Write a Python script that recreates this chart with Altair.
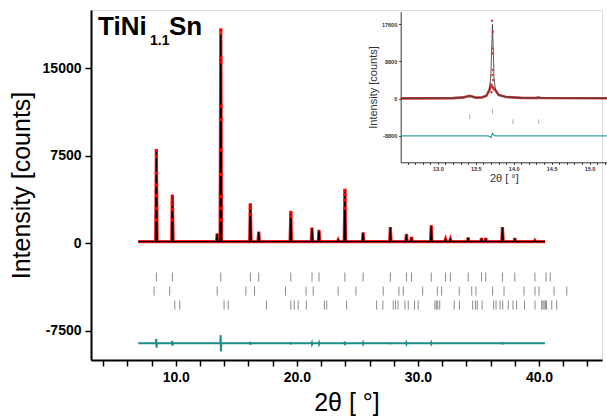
import altair as alt
import pandas as pd

# ---------------- values ----------------
# main pattern: reflections (2θ in °) with observed / calculated peak heights (counts)
peak_pos = [8.40, 9.72, 13.42, 13.72, 16.16, 16.85, 19.50, 21.25, 21.83, 23.41, 23.97,
            25.47, 27.72, 29.05, 29.47, 31.10, 32.28, 32.68, 34.15, 35.25, 35.60,
            36.98, 38.00, 39.66]
peak_obs = [8000, 4100, 850, 18300, 3350, 1000, 2700, 1350, 1150, 300, 4600,
            950, 1400, 800, 550, 1550, 350, 350, 500, 450, 450, 1400, 450, 250]
peak_calc = [7900, 4000, 800, 17900, 3250, 950, 2650, 1300, 1100, 280, 4500,
             900, 1350, 750, 520, 1500, 330, 330, 480, 430, 430, 1350, 430, 230]
background = 150
scan_start, scan_end = 6.9, 40.5

# individual observed points visible on the strong peaks
obs_pt_x = [13.72, 13.72, 13.72, 13.72, 13.72, 13.72, 13.72, 13.72, 13.72, 13.72,
            8.40, 8.40, 8.40, 8.40, 8.40, 8.40, 8.40,
            9.72, 9.72, 9.72, 9.72, 9.72,
            16.16, 16.16, 16.16,
            23.97, 23.97, 23.97, 23.97,
            19.50, 19.50]
obs_pt_y = [18300, 15900, 15550, 11750, 10600, 8000, 5900, 4000, 3000, 2000,
            7950, 7450, 6000, 5000, 4100, 3000, 2000,
            4050, 3700, 3350, 2900, 2000,
            3300, 3000, 2500,
            4550, 4200, 3700, 3000,
            2650, 2300]

# difference curve: spikes (2θ) and their amplitudes (counts)
diff_pos = [8.40, 9.72, 13.72, 16.16, 19.50, 21.25, 21.83, 23.97, 25.47, 27.72, 29.05, 31.10, 36.98]
diff_amp = [380, 200, 700, 120, 100, 70, 70, 150, 60, 80, 60, 60, 100]
diff_offset = -8570

# Bragg reflection markers (2θ) for the three phases
bragg_1 = [8.40, 9.72, 13.72, 16.16, 16.85, 19.50, 21.25, 21.83, 23.97, 25.47, 27.72,
           29.05, 29.47, 31.10, 32.28, 32.68, 34.15, 35.25, 35.60, 36.98, 38.00,
           39.66, 40.58, 40.93]
bragg_2 = [8.21, 9.50, 13.42, 15.79, 16.50, 19.06, 20.76, 21.35, 23.41, 24.88, 27.13,
           28.43, 28.79, 30.39, 31.60, 31.96, 33.41, 34.44, 34.79, 36.17, 37.11,
           38.76, 39.67, 40.00, 41.24, 42.29]
bragg_3 = [9.92, 10.33, 13.99, 14.33, 17.49, 19.50, 19.78, 20.11, 20.78, 22.28, 22.47,
           24.11, 26.59, 27.10, 27.96, 28.14, 28.35, 28.93, 29.20, 29.72, 30.02,
           31.40, 31.52, 31.64, 31.80, 33.00, 33.43, 34.52, 34.75, 34.90, 35.30,
           36.25, 36.45, 36.78, 37.00, 37.46, 37.85, 38.15, 38.80, 39.67, 40.22,
           40.32, 40.42, 40.52, 40.62, 41.05, 41.46]
bragg_rows_main = [-2890, -4090, -5290]

main_x_ticks = [4, 6, 8, 10, 12, 14, 16, 18, 20, 22, 24, 26, 28, 30, 32, 34, 36, 38, 40, 42, 44]
main_y_ticks = [-7500, 0, 7500, 15000]

# inset (zoom around the strongest reflection)
inset_calc_x = [12.51, 13.20, 13.34, 13.39, 13.42, 13.45, 13.50, 13.58, 13.64, 13.68, 13.70,
                13.71, 13.72, 13.73, 13.74, 13.76, 13.80, 13.90, 14.10, 14.28, 14.32, 14.36, 15.23]
inset_calc_y = [80, 130, 300, 550, 650, 520, 250, 280, 700, 2000, 6000,
                12000, 17600, 12000, 5000, 2000, 900, 400, 200, 180, 260, 180, 100]
inset_obs_x = [12.51, 13.20, 13.34, 13.39, 13.42, 13.45, 13.50, 13.58, 13.64, 13.68, 13.70,
               13.76, 13.80, 13.90, 14.10, 14.28, 14.32, 14.36, 15.23]
inset_obs_y = [80, 130, 300, 560, 660, 520, 250, 280, 700, 2100, 3200,
               2000, 900, 400, 200, 180, 260, 180, 100]
inset_pt_x = [13.715, 13.725, 13.720, 13.715, 13.725, 13.720, 13.730, 13.710, 13.735, 13.705]
inset_pt_y = [18450, 15850, 11900, 10700, 6800, 5600, 4400, 3200, 2200, 1500]
inset_diff_x = [12.51, 13.66, 13.69, 13.70, 13.72, 13.73, 13.76, 15.23]
inset_diff_y = [-8800, -8800, -9000, -9180, -8230, -8500, -8800, -8800]
inset_bragg_rows = [-3060, -4260, -5440]
inset_x_ticks = [12.6, 12.7, 12.8, 12.9, 13.0, 13.1, 13.2, 13.3, 13.4, 13.5, 13.6, 13.7,
                 13.8, 13.9, 14.0, 14.1, 14.2, 14.3, 14.4, 14.5, 14.6, 14.7, 14.8,
                 14.9, 15.0, 15.1, 15.2]
inset_y_ticks = [-8800, 0, 8800, 17600]

# ---------------- tables built from the lists ----------------
HW = 0.06  # half width of drawn peaks


def profile(pos, heights):
    rows = [(scan_start, background)]
    for p, h in sorted(zip(pos, heights)):
        rows += [(p - HW, background), (p, h), (p + HW, background)]
    rows.append((scan_end, background))
    return pd.DataFrame(rows, columns=["tt", "counts"])


obs_df = profile(peak_pos, peak_obs)
calc_df = profile(peak_pos, peak_calc)
pts_df = pd.DataFrame({"tt": obs_pt_x, "counts": obs_pt_y})

drows = [(scan_start, diff_offset)]
for p, a in zip(diff_pos, diff_amp):
    drows += [(p - 0.04, diff_offset), (p - 0.01, diff_offset + a),
              (p + 0.01, diff_offset - a), (p + 0.04, diff_offset)]
drows.append((scan_end, diff_offset))
diff_df = pd.DataFrame(drows, columns=["tt", "counts"])

TICK_H = 390
brows = []
for lst, yc in zip([bragg_1, bragg_2, bragg_3], bragg_rows_main):
    for p in lst:
        brows.append((p, yc - TICK_H, yc + TICK_H))
bragg_df = pd.DataFrame(brows, columns=["tt", "y1", "y2"])

FONT = "Liberation Sans"

main_x_scale = alt.Scale(domain=[3.0, 45.2], nice=False, zero=False)
main_y_scale = alt.Scale(domain=[-10000, 20000], nice=False, zero=False)
main_x_axis = alt.Axis(values=main_x_ticks,
                       labelExpr="datum.value % 10 == 0 ? format(datum.value, '.1f') : ''",
                       title="2θ [ °]", grid=False, domainColor="black", domainWidth=2,
                       tickColor="black", tickWidth=1.5, tickSize=6, labelFont=FONT,
                       labelFontSize=14, labelFontWeight="bold", labelColor="black",
                       labelPadding=4, labelOverlap=False, labelFlush=False,
                       titleFont=FONT, titleFontSize=25, titleFontWeight="normal",
                       titleColor="black", titlePadding=6)
main_y_axis = alt.Axis(values=main_y_ticks, labelExpr="'' + datum.value",
                       title="Intensity [counts]", grid=False, domainColor="black",
                       domainWidth=2, tickColor="black", tickWidth=1.5, tickSize=6,
                       labelFont=FONT, labelFontSize=14, labelFontWeight="bold",
                       labelColor="black", labelPadding=4, labelOverlap=False,
                       labelFlush=False, titleFont=FONT, titleFontSize=25,
                       titleFontWeight="normal", titleColor="black", titlePadding=8)


def mx(field="tt"):
    return alt.X(f"{field}:Q", scale=main_x_scale, axis=main_x_axis)


def my(field="counts"):
    return alt.Y(f"{field}:Q", scale=main_y_scale, axis=main_y_axis)


obs_line = alt.Chart(obs_df).mark_line(color="#ff1a1a", strokeWidth=3.2).encode(
    x=mx(), y=my(), order="tt:Q")
calc_line = alt.Chart(calc_df).mark_line(color="black", strokeWidth=1.4).encode(
    x=mx(), y=my(), order="tt:Q")
pts = alt.Chart(pts_df).mark_square(color="#ff0000", size=10, opacity=1).encode(x=mx(), y=my())
diff_line = alt.Chart(diff_df).mark_line(color="#1f8c8c", strokeWidth=2).encode(
    x=mx(), y=my(), order="tt:Q")
bragg = alt.Chart(bragg_df).mark_rule(color="#8c8c8c", strokeWidth=1).encode(
    x=mx(), y=my("y1"), y2="y2:Q")

lab_df = pd.DataFrame({"a": [0]})
t1 = alt.Chart(lab_df).mark_text(text="TiNi", font=FONT, fontSize=26, fontWeight="bold",
                                 align="left", baseline="alphabetic", color="black").encode(
    x=alt.value(7), y=alt.value(25))
t2 = alt.Chart(lab_df).mark_text(text="1.1", font=FONT, fontSize=14, fontWeight="bold",
                                 align="left", baseline="alphabetic", color="black").encode(
    x=alt.value(59), y=alt.value(35))
t3 = alt.Chart(lab_df).mark_text(text="Sn", font=FONT, fontSize=26, fontWeight="bold",
                                 align="left", baseline="alphabetic", color="black").encode(
    x=alt.value(78), y=alt.value(25))

main = alt.layer(bragg, obs_line, calc_line, pts, diff_line, t1, t2, t3)

# ---------------- inset ----------------
H = 350
inset_x_scale = alt.Scale(domain=[12.51, 15.23], range=[309.7, 516], nice=False, zero=False)
inset_y_scale = alt.Scale(domain=[-15050, 20580], range=[152.3, 1.7], nice=False, zero=False)
inset_x_axis = alt.Axis(orient="bottom", offset=-(H - 152.3), values=inset_x_ticks,
                        labelExpr="abs(datum.value * 2 - round(datum.value * 2)) < 0.01 ? format(datum.value, '.1f') : ''",
                        title="2θ [ °]", grid=False, domainColor="#333333", domainWidth=1,
                        tickColor="#333333", tickWidth=1, tickSize=2, labelFont=FONT,
                        labelFontSize=5.5, labelFontWeight="bold", labelColor="#333333",
                        labelPadding=2, labelOverlap=False, labelFlush=False,
                        titleFont=FONT, titleFontSize=11, titleFontWeight="normal",
                        titleColor="#333333", titlePadding=1)
inset_y_axis = alt.Axis(orient="left", offset=-309.7, values=inset_y_ticks,
                        labelExpr="'' + datum.value", title="Intensity [counts]", grid=False,
                        domainColor="#333333", domainWidth=1, tickColor="#333333", tickWidth=1,
                        tickSize=2, labelFont=FONT, labelFontSize=5.5, labelFontWeight="bold",
                        labelColor="#333333", labelPadding=2, labelOverlap=False,
                        labelFlush=False, titleFont=FONT, titleFontSize=11,
                        titleFontWeight="normal", titleColor="#333333", titlePadding=3)


def ix(field="tt"):
    return alt.X(f"{field}:Q", scale=inset_x_scale, axis=inset_x_axis)


def iy(field="counts"):
    return alt.Y(f"{field}:Q", scale=inset_y_scale, axis=inset_y_axis)


in_obs = alt.Chart(pd.DataFrame({"tt": inset_obs_x, "counts": inset_obs_y})).mark_line(
    color="#c43a3a", strokeWidth=2.6).encode(x=ix(), y=iy(), order="tt:Q")
in_calc = alt.Chart(pd.DataFrame({"tt": inset_calc_x, "counts": inset_calc_y})).mark_line(
    color="#333333", strokeWidth=0.8).encode(x=ix(), y=iy(), order="tt:Q")
in_pts = alt.Chart(pd.DataFrame({"tt": inset_pt_x, "counts": inset_pt_y})).mark_circle(
    color="#d04040", size=6, opacity=1).encode(x=ix(), y=iy())
in_diff = alt.Chart(pd.DataFrame({"tt": inset_diff_x, "counts": inset_diff_y})).mark_line(
    color="#3aa3a3", strokeWidth=1.3).encode(x=ix(), y=iy(), order="tt:Q")

IN_TICK_H = 550
irows = []
for lst, yc in zip([bragg_1, bragg_2, bragg_3], inset_bragg_rows):
    for p in lst:
        if 12.51 <= p <= 15.23:
            irows.append((p, yc - IN_TICK_H, yc + IN_TICK_H))
in_bragg = alt.Chart(pd.DataFrame(irows, columns=["tt", "y1", "y2"])).mark_rule(
    color="#b0b0b0", strokeWidth=1).encode(x=ix(), y=iy("y1"), y2="y2:Q")

inset = alt.layer(in_bragg, in_obs, in_calc, in_pts, in_diff)

chart = alt.layer(main, inset).resolve_scale(x="independent", y="independent").properties(
    width=511, height=H,
    autosize=alt.AutoSizeParams(type="none"),
    padding={"left": 91, "top": 10, "right": 5, "bottom": 57},
).configure_view(strokeWidth=0).configure(background="white")

chart.save("out.html", embed_options={"renderer": "svg", "actions": False})
